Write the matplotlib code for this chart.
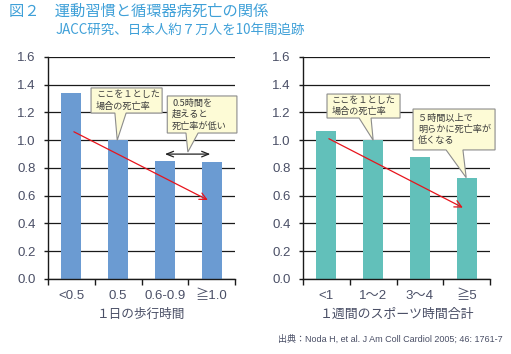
import matplotlib
matplotlib.use("Agg")
import matplotlib.pyplot as plt
from matplotlib.patches import Polygon, FancyArrowPatch

plt.rcParams['font.family'] = ['Liberation Sans', 'Noto Sans CJK JP', 'DejaVu Sans']

# data
walk_labels = ["<0.5", "0.5", "0.6-0.9", "≧1.0"]
walk_values = [1.34, 1.00, 0.85, 0.84]
sport_labels = ["<1", "1～2", "3～4", "≧5"]
sport_values = [1.07, 1.00, 0.88, 0.73]
walk_trend = [(0.0, 1.07), (2.97, 0.56)]
sport_trend = [(0.0, 1.02), (2.97, 0.505)]

TXT = "#4a4f66"
GRID = "#1a1a1a"
JP = ['Noto Sans CJK JP', 'DejaVu Sans']


def style_axes(ax, labels, xlabel, xfs):
    ax.set_xlim(-0.5, 3.5)
    ax.set_ylim(0, 1.6)
    ax.set_yticks([0.0, 0.2, 0.4, 0.6, 0.8, 1.0, 1.2, 1.4, 1.6])
    ax.set_yticklabels([f"{v:.1f}" for v in ax.get_yticks()])
    ax.set_xticks(range(len(labels)))
    ax.set_xticklabels(labels)
    ax.set_xticks([-0.5, 0.5, 1.5, 2.5, 3.5], minor=True)
    ax.tick_params(axis="x", which="major", length=0, pad=8, labelsize=9.5, labelcolor=TXT)
    ax.tick_params(axis="x", which="minor", length=4, width=1, color=GRID, direction="out")
    ax.tick_params(axis="y", length=3, width=1, color=GRID, labelsize=9.5, labelcolor=TXT, pad=6)
    ax.grid(axis="y", color=GRID, linewidth=0.9)
    ax.set_axisbelow(True)
    for s in ("top", "right"):
        ax.spines[s].set_visible(False)
    for s in ("left", "bottom"):
        ax.spines[s].set_color(GRID)
        ax.spines[s].set_linewidth(1.0)
    ax.set_xlabel(xlabel, fontsize=xfs, color=TXT, family=JP, labelpad=4)


def callout(ax, text, x0, x1, y0, y1, b0, b1, tip, fs=6.6):
    pts = [(x0, y1), (x1, y1), (x1, y0), (b1, y0), tip, (b0, y0), (x0, y0)]
    ax.add_patch(Polygon(pts, closed=True, facecolor="#fdfbd6", edgecolor="#8c8c8c",
                         linewidth=0.8, zorder=5, clip_on=False))
    ax.annotate(text, xy=(x0, (y0 + y1) / 2), xytext=(3.5, 0), textcoords="offset points",
                ha="left", va="center", fontsize=fs, color="#3d3d3d", family=JP,
                zorder=6, linespacing=1.3, annotation_clip=False)


def trend(ax, pts):
    ax.add_patch(FancyArrowPatch(pts[0], pts[1], arrowstyle="->,head_length=5,head_width=2.5",
                                 color="#e8141c", linewidth=0.9, zorder=4))


fig = plt.figure(figsize=(5.11, 3.54), dpi=100)
ax1 = fig.add_axes([0.094, 0.212, 0.366, 0.627])
ax2 = fig.add_axes([0.593, 0.212, 0.366, 0.627])

ax1.bar(range(len(walk_values)), walk_values, width=0.43, color="#6b9bd2", zorder=2)
ax2.bar(range(len(sport_values)), sport_values, width=0.43, color="#62c0ba", zorder=2)
style_axes(ax1, walk_labels, "１日の歩行時間", 9.1)
style_axes(ax2, sport_labels, "１週間のスポーツ時間合計", 9.3)

trend(ax1, walk_trend)
trend(ax2, sport_trend)

callout(ax1, "ここを１とした\n場合の死亡率", 0.42, 1.94, 1.196, 1.377, 0.93, 1.17, (0.98, walk_values[1]))
callout(ax1, "0.5時間を\n超えると\n死亡率が低い", 2.05, 3.54, 1.052, 1.319, 2.45, 2.71, (2.49, 0.915))
ax1.annotate("", xy=(2.0, 0.90), xytext=(2.97, 0.90),
             arrowprops=dict(arrowstyle="<->,head_length=0.5,head_width=0.2",
                             color="#222222", linewidth=0.9, shrinkA=0, shrinkB=0), zorder=4)

callout(ax2, "ここを１とした\n場合の死亡率", 0.013, 1.575, 1.16, 1.333, 0.70, 0.955, (1.0, sport_values[1]))
callout(ax2, "５時間以上で\n明らかに死亡率が\n低くなる", 1.853, 3.607, 0.93, 1.225, 2.56, 2.92, (2.99, sport_values[3]))

fig.text(0.018, 0.968, "図２　運動習慣と循環器病死亡の関係", fontsize=11, color="#3fa0d8",
         family=JP, va="center")
fig.text(0.108, 0.915, "JACC研究、日本人約７万人を10年間追跡", fontsize=9.7, color="#3fa0d8",
         family=JP, va="center")
fig.text(0.984, 0.042, "出典：Noda H, et al. J Am Coll Cardiol 2005; 46: 1761-7", fontsize=6.5,
         color=TXT, ha="right", va="center")

fig.savefig("out.png", dpi=100)
